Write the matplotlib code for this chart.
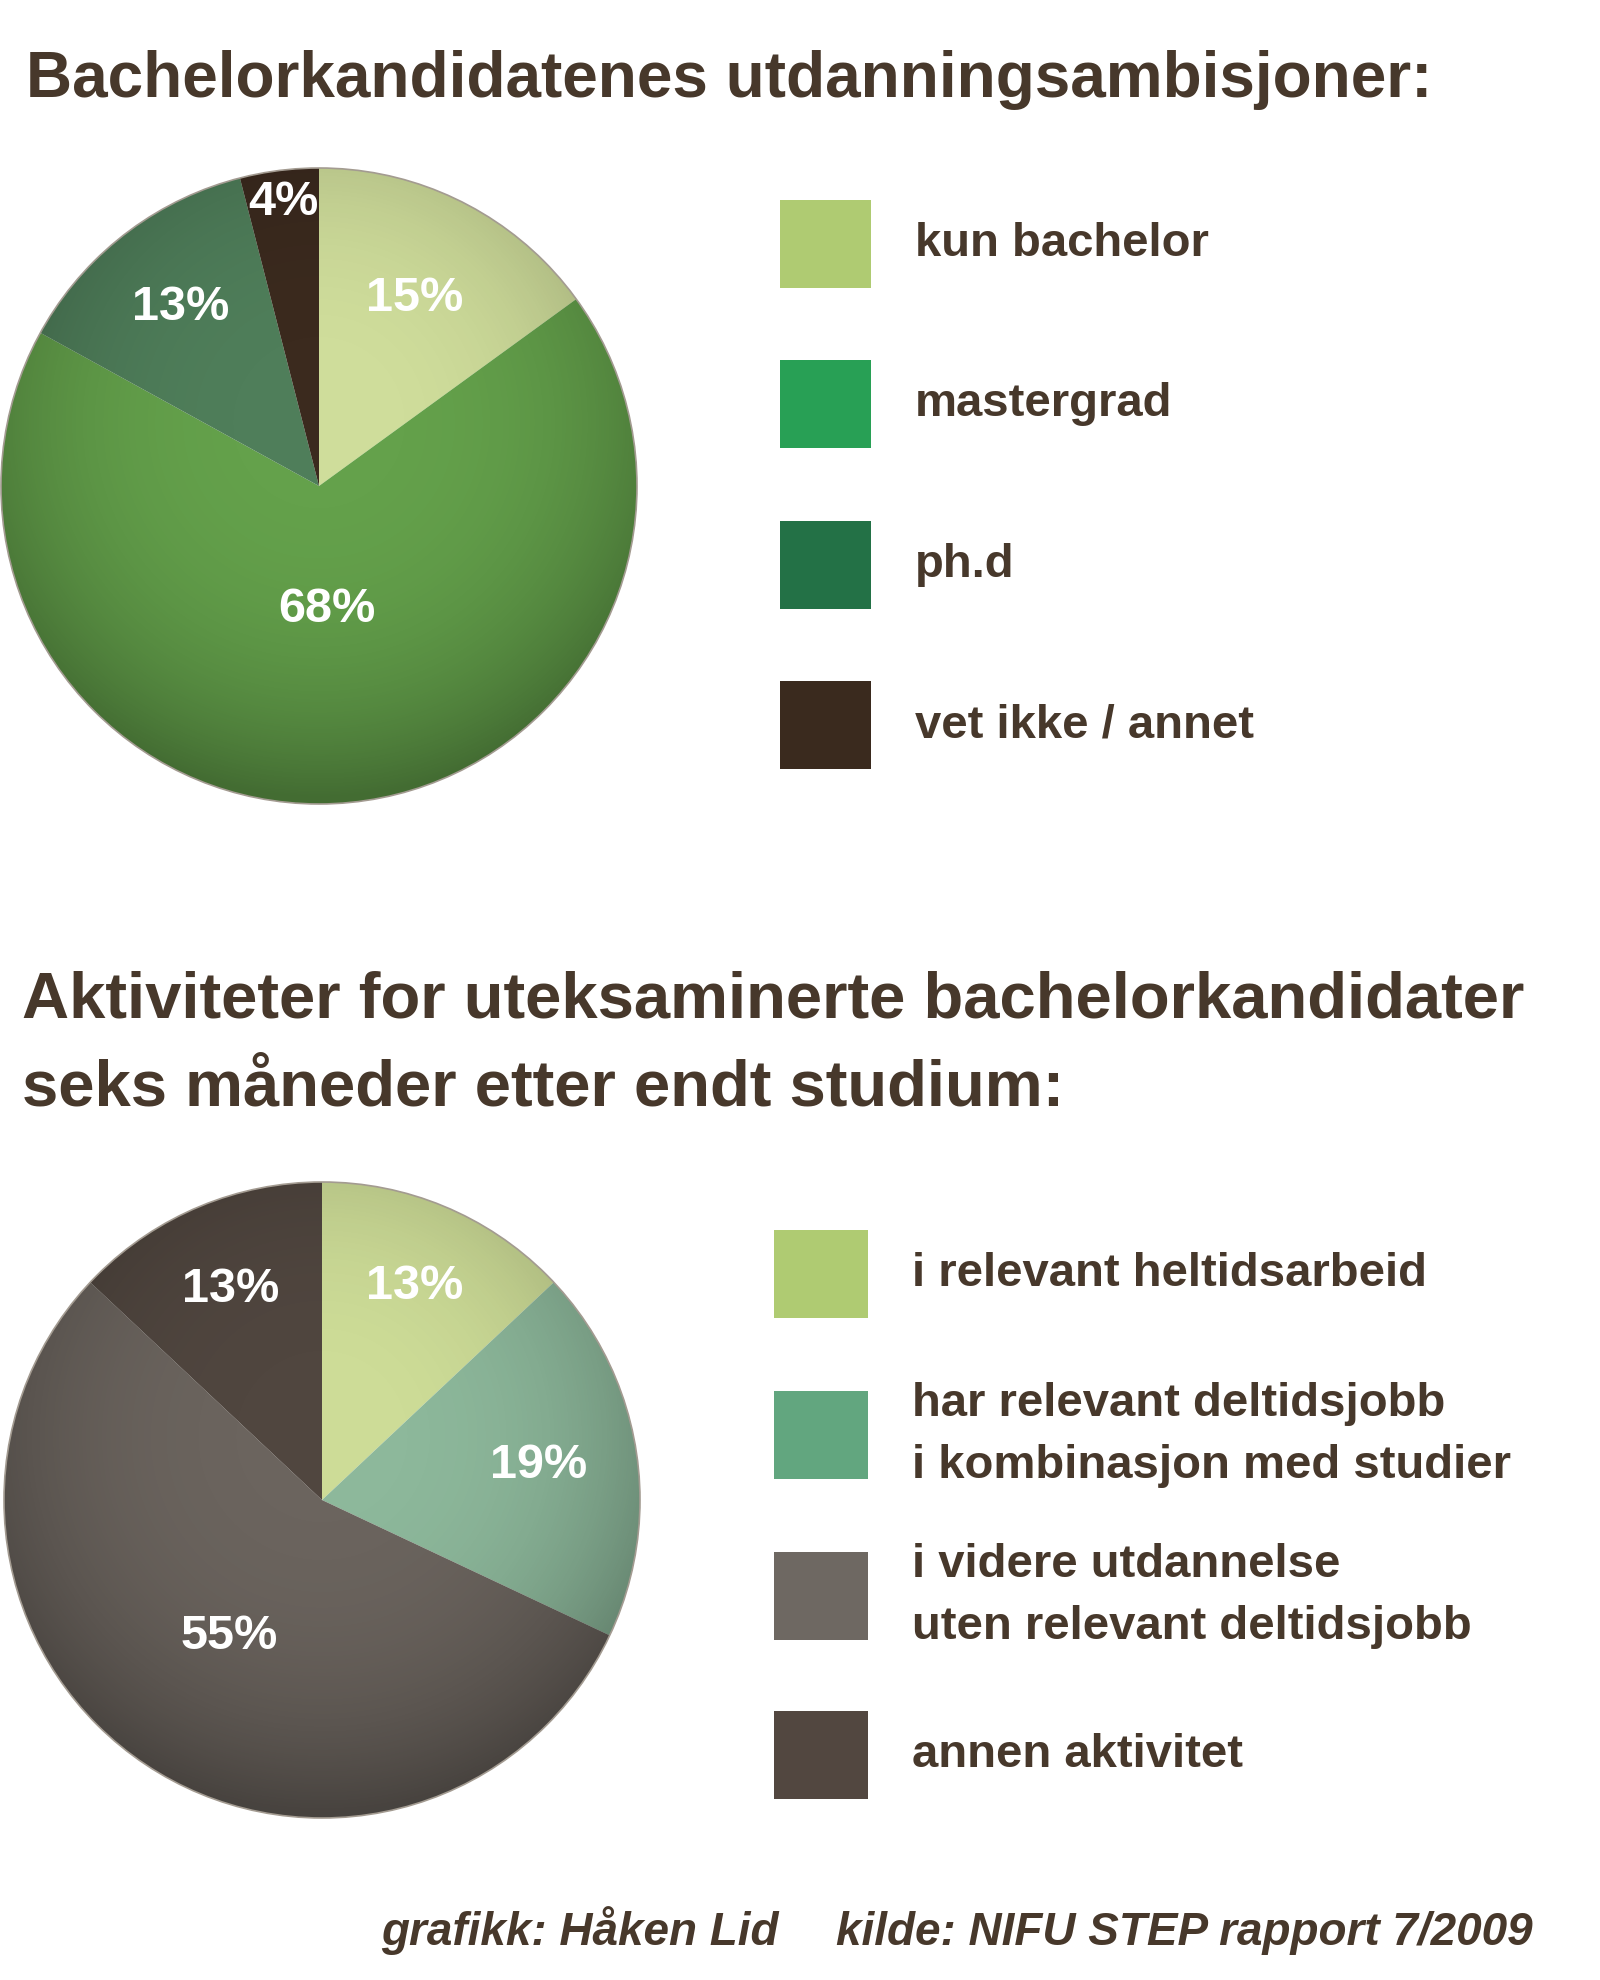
import matplotlib
matplotlib.use("Agg")
import matplotlib.pyplot as plt
import numpy as np
from matplotlib.patches import Wedge, Circle, Rectangle

# ---- data ----
title1 = "Bachelorkandidatenes utdanningsambisjoner:"
labels1 = ["kun bachelor", "mastergrad", "ph.d", "vet ikke / annet"]
values1 = [15, 68, 13, 4]
pie_colors1 = ["#cfdd9b", "#64a14b", "#4f7e5a", "#3b2a1e"]
legend_colors1 = ["#afcb72", "#28a055", "#237146", "#3a2a1e"]

title2_lines = ["Aktiviteter for uteksaminerte bachelorkandidater",
                "seks måneder etter endt studium:"]
labels2 = ["i relevant heltidsarbeid",
           "har relevant deltidsjobb\ni kombinasjon med studier",
           "i videre utdannelse\nuten relevant deltidsjobb",
           "annen aktivitet"]
values2 = [13, 19, 55, 13]
pie_colors2 = ["#cddc97", "#8db89b", "#6b645e", "#50463f"]
legend_colors2 = ["#afcb72", "#62a67f", "#6e6862", "#524740"]

footer_left = "grafikk: Håken Lid"
footer_right = "kilde: NIFU STEP rapport 7/2009"

BROWN = "#47382b"
FONT = ["Liberation Sans Narrow", "Liberation Sans", "DejaVu Sans"]

fig = plt.figure(figsize=(16, 19.8), dpi=100, facecolor="white")
ax = fig.add_axes([0, 0, 1, 1])
ax.set_xlim(0, 1600)
ax.set_ylim(1980, 0)
ax.axis("off")


def pie_at(values, colors, cx, cy, r, label_r, lbl_fs):
    total = float(sum(values))
    ang = -90.0  # top of screen (y axis inverted -> clockwise on screen)
    wedges = []
    for v, c in zip(values, colors):
        span = 360.0 * v / total
        w = Wedge((cx, cy), r, ang, ang + span, facecolor=c, edgecolor="none", zorder=2)
        ax.add_patch(w)
        wedges.append((ang, span))
        ang += span
    # soft radial shading
    n = 400
    xs = np.linspace(cx - r, cx + r, n)
    ys = np.linspace(cy - r, cy + r, n)
    X, Y = np.meshgrid(xs, ys)
    d = np.hypot(X - cx, Y - (cy - 0.2 * r)) / r
    alpha = np.clip(0.2 * d ** 3.0, 0, 0.33)
    img = np.zeros((n, n, 4))
    img[..., 3] = alpha
    circ = Circle((cx, cy), r, transform=ax.transData, facecolor="none")
    im = ax.imshow(img, extent=(cx - r, cx + r, cy + r, cy - r), zorder=3,
                   interpolation="bilinear")
    im.set_clip_path(circ)
    ax.add_patch(Circle((cx, cy), r, facecolor="none", edgecolor="#a39b91",
                        linewidth=1.2, zorder=4))
    for (a0, span), v, lr in zip(wedges, values, label_r):
        mid = np.deg2rad(a0 + span / 2)
        tx = cx + lr * r * np.cos(mid)
        ty = cy + lr * r * np.sin(mid)
        ax.text(tx, ty, f"{v}%", color="white", fontsize=lbl_fs, fontweight="bold",
                family=FONT, ha="center", va="center", zorder=5)
    ax.set_aspect("equal")


# ---- top section ----
ax.text(26, 97, title1, color=BROWN, fontsize=46, fontweight="bold", family=FONT,
        ha="left", va="baseline")
pie_at(values1, pie_colors1, 319, 486, 318, [0.66, 0.39, 0.71, 0.90], 35)

leg1_y = [244, 404, 565, 725]
for y, c, lab in zip(leg1_y, legend_colors1, labels1):
    ax.add_patch(Rectangle((780, y - 44), 91, 88, facecolor=c, edgecolor="none"))
    ax.text(915, y, lab, color=BROWN, fontsize=34, fontweight="bold", family=FONT,
            ha="left", va="center")

# ---- bottom section ----
ax.text(22, 1017, title2_lines[0], color=BROWN,
        fontsize=47, fontweight="bold", family=FONT, ha="left", va="baseline")
ax.text(22, 1105, title2_lines[1], color=BROWN,
        fontsize=47, fontweight="bold", family=FONT, ha="left", va="baseline")
pie_at(values2, pie_colors2, 322, 1500, 318, [0.73, 0.69, 0.52, 0.72], 35)

leg2_y = [1274, 1435, 1596, 1755]
for y, c, lab in zip(leg2_y, legend_colors2, labels2):
    ax.add_patch(Rectangle((774, y - 44), 94, 88, facecolor=c, edgecolor="none"))
    ax.text(912, y, lab, color=BROWN, fontsize=34, fontweight="bold", family=FONT,
            ha="left", va="center", linespacing=1.55)

ax.text(381, 1945, footer_left, color=BROWN, fontsize=33, fontweight="bold",
        style="italic", family=FONT, ha="left", va="baseline")
ax.text(836, 1945, footer_right, color=BROWN, fontsize=33, fontweight="bold",
        style="italic", family=FONT, ha="left", va="baseline")

fig.savefig("out.png", dpi=100, facecolor="white")
